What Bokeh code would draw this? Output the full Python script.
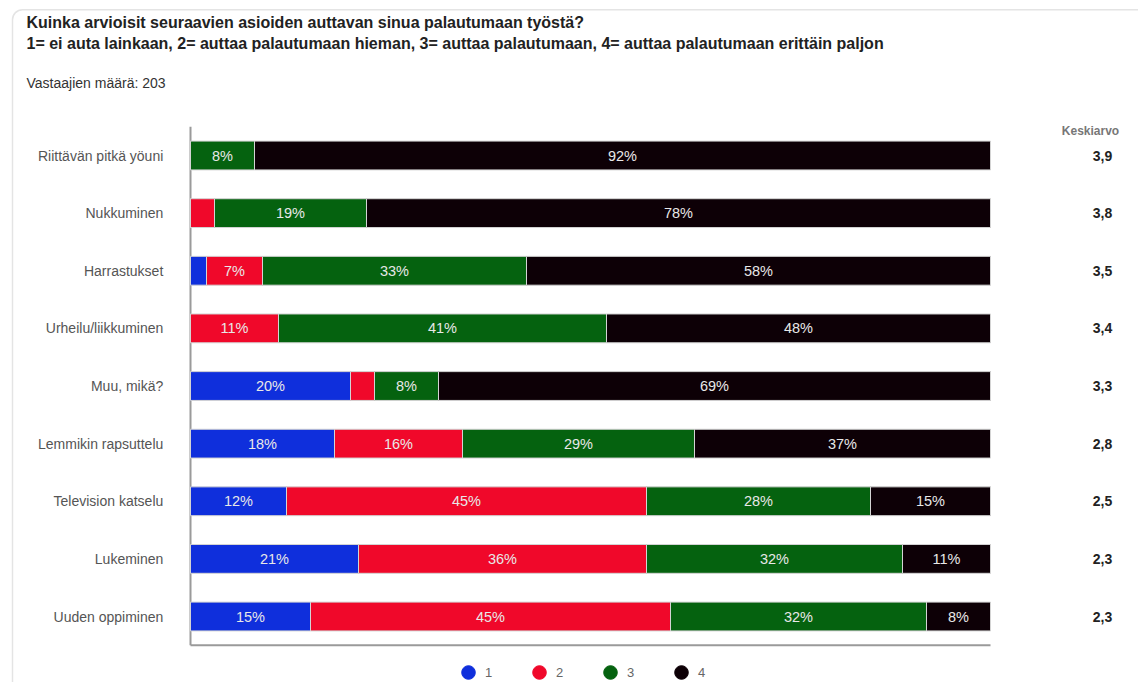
import numpy as np
import pandas as pd
from bokeh.plotting import figure
from bokeh.models import ColumnDataSource, Range1d, Label, Legend, LegendItem
from bokeh.core.properties import value
from bokeh.embed import file_html
from bokeh.resources import INLINE

# ---------------- data ----------------
title_line1 = "Kuinka arvioisit seuraavien asioiden auttavan sinua palautumaan työstä?"
title_line2 = ("1= ei auta lainkaan, 2= auttaa palautumaan hieman, 3= auttaa palautumaan, "
               "4= auttaa palautumaan erittäin paljon")
respondents = "Vastaajien määrä: 203"
mean_header = "Keskiarvo"

categories = ["Riittävän pitkä yöuni", "Nukkuminen", "Harrastukset", "Urheilu/liikkuminen",
              "Muu, mikä?", "Lemmikin rapsuttelu", "Television katselu", "Lukeminen",
              "Uuden oppiminen"]
series = ["1", "2", "3", "4"]
pct_1 = [0, 0, 2, 0, 20, 18, 12, 21, 15]
pct_2 = [0, 3, 7, 11, 3, 16, 45, 36, 45]
pct_3 = [8, 19, 33, 41, 8, 29, 28, 32, 32]
pct_4 = [92, 78, 58, 48, 69, 37, 15, 11, 8]
means = [3.9, 3.8, 3.5, 3.4, 3.3, 2.8, 2.5, 2.3, 2.3]
colors = ["#0f2fdc", "#f0082a", "#05620f", "#0d0006"]

FONT = "Liberation Sans"
N = len(categories)

# ---------------- sources ----------------
rows = list(range(N))
df = pd.DataFrame({"y": rows, "1": pct_1, "2": pct_2, "3": pct_3, "4": pct_4})
bar_src = ColumnDataSource(df)

vals = np.array([pct_1, pct_2, pct_3, pct_4], dtype=float)
lefts = np.vstack([np.zeros(N), np.cumsum(vals, axis=0)[:-1]])
centers = lefts + vals / 2
lx, ly, lt = [], [], []
for s in range(len(series)):
    for r in rows:
        if vals[s, r] >= 5:
            lx.append(centers[s, r])
            ly.append(r)
            lt.append(f"{int(vals[s, r])}%")
lab_src = ColumnDataSource(dict(x=lx, y=ly, text=lt))

cat_src = ColumnDataSource(dict(x=[-3.4] * N, y=rows, text=categories))
mean_src = ColumnDataSource(dict(x=[114.0] * N, y=rows,
                                 text=[f"{m:.1f}".replace(".", ",") for m in means]))

# ---------------- figure ----------------
p = figure(width=1138, height=682, output_backend="svg", toolbar_location=None,
           x_range=Range1d(-23.75, 118.5), y_range=Range1d(9.145, -2.690),
           x_axis_location=None, y_axis_location=None, min_border=0,
           min_border_left=0, min_border_right=0, min_border_top=0, min_border_bottom=0)
p.outline_line_color = None
p.background_fill_color = "white"
p.border_fill_color = "white"
p.grid.visible = False

# card outline
p.quad(left=[-22.25], right=[200], top=[-2.53], bottom=[14], fill_color=None,
       line_color="#e4e4e4", line_width=1.5, border_radius=10)

# axis lines
p.segment(x0=[0], x1=[0], y0=[-0.5], y1=[N - 0.5], line_color="#9a9a9a", line_width=2)
p.segment(x0=[0], x1=[100], y0=[N - 0.5], y1=[N - 0.5], line_color="#9a9a9a", line_width=2)

p.hbar_stack(series, y="y", height=0.5, color=colors, source=bar_src,
             line_color="#d4d4d4", line_width=1)

p.text(x="x", y="y", text="text", source=lab_src, text_align="center",
       text_baseline="middle", text_font=value(FONT), text_font_size="14.5px",
       text_color="#e8e8e8")

p.text(x="x", y="y", text="text", source=cat_src, text_align="right",
       text_baseline="middle", text_font=value(FONT), text_font_size="14px",
       text_color="#555555")

p.text(x="x", y="y", text="text", source=mean_src, text_align="center",
       text_baseline="middle", text_font=value(FONT), text_font_size="14px",
       text_font_style="bold", text_color="#222222")

# titles
p.add_layout(Label(x=26, y=660, x_units="screen", y_units="screen", text=title_line1,
                   text_font=FONT, text_font_size="16px", text_font_style="bold",
                   text_color="#222222", text_baseline="middle"))
p.add_layout(Label(x=26, y=639, x_units="screen", y_units="screen", text=title_line2,
                   text_font=FONT, text_font_size="16px", text_font_style="bold",
                   text_color="#222222", text_baseline="middle"))
p.add_layout(Label(x=26, y=600, x_units="screen", y_units="screen", text=respondents,
                   text_font=FONT, text_font_size="14px", text_color="#333333",
                   text_baseline="middle"))
p.add_layout(Label(x=1090, y=552, x_units="screen", y_units="screen", text=mean_header,
                   text_font=FONT, text_font_size="12px", text_font_style="bold",
                   text_color="#777777", text_baseline="middle", text_align="center"))

# legend
items = []
for s, c in zip(series, colors):
    r = p.scatter(x=[np.nan], y=[np.nan], marker="circle", fill_color=c, line_color=c)
    items.append(LegendItem(label=s, renderers=[r]))
legend = Legend(items=items, orientation="horizontal", location=(451, -7),
                glyph_width=34, glyph_height=34, label_standoff=0, spacing=17,
                padding=0, margin=0, border_line_color=None, background_fill_alpha=0,
                label_text_font=FONT, label_text_font_size="13px",
                label_text_color="#666666")
p.add_layout(legend, "center")

open("out.html", "w").write(file_html(p, INLINE))
